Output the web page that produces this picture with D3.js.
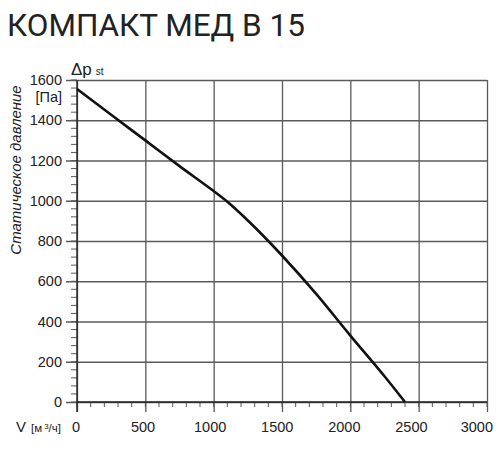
<!DOCTYPE html>
<html>
<head>
<meta charset="utf-8">
<script src="https://cdn.jsdelivr.net/npm/d3@7"></script>
<style>
  html, body { margin: 0; padding: 0; background: #fff; }
  svg { display: block; }
</style>
</head>
<body>
<div id="chart"></div>
<script>
// Fan curve.
const flow = [0, 250, 500, 750, 1000, 1100, 1250, 1500, 1750, 2000, 2250, 2400];
const pressure = [1555, 1427, 1300, 1172, 1048, 995, 902, 728, 537, 330, 128, 0];
const xTicks = [0, 500, 1000, 1500, 2000, 2500, 3000];
const yTicks = [0, 200, 400, 600, 800, 1000, 1200, 1400, 1600];
const titleText = 'КОМПАКТ МЕД В 15';
const yTitle = 'Статическое давление';

const W = 500, H = 450;
const M = { left: 77, right: 13, top: 80, bottom: 48 };
const innerW = W - M.left - M.right;
const innerH = H - M.top - M.bottom;
const gridInk = '#5a5a5a';
const ink = '#222';
const font = '"Liberation Sans", Arial, sans-serif';

const x = d3.scaleLinear().domain([0, 3000]).range([0, innerW]);
const y = d3.scaleLinear().domain([0, 1600]).range([innerH, 0]);

const svg = d3.select('#chart').append('svg')
  .attr('width', W).attr('height', H).attr('viewBox', `0 0 ${W} ${H}`);

svg.append('text').attr('x', 7).attr('y', 36)
  .attr('font-family', 'Roboto, sans-serif').attr('font-size', 31.5)
  .attr('fill', '#222').text(titleText);

const g = svg.append('g').attr('transform', `translate(${M.left},${M.top})`);

// minor ticks (outside the plot)
g.append('g').selectAll('line').data(d3.range(0, 3001, 100))
  .join('line')
  .attr('x1', (d) => x(d)).attr('x2', (d) => x(d))
  .attr('y1', innerH).attr('y2', innerH + 5)
  .attr('stroke', gridInk).attr('stroke-width', 1);
g.append('g').selectAll('line').data(d3.range(0, 1601, 40))
  .join('line')
  .attr('x1', -6).attr('x2', 0)
  .attr('y1', (d) => y(d)).attr('y2', (d) => y(d))
  .attr('stroke', gridInk).attr('stroke-width', 1);

// gridlines through the axes
g.append('g')
  .attr('transform', `translate(0,${innerH})`)
  .call(d3.axisBottom(x).tickValues(xTicks).tickSize(-innerH).tickSizeOuter(0).tickFormat(''))
  .call((s) => {
    s.select('.domain').remove();
    s.selectAll('line').attr('stroke', gridInk).attr('stroke-width', 1.3)
      .attr('y1', 10);
  });
g.append('g')
  .call(d3.axisLeft(y).tickValues(yTicks).tickSize(-innerW).tickSizeOuter(0).tickFormat(''))
  .call((s) => {
    s.select('.domain').remove();
    s.selectAll('line').attr('stroke', gridInk).attr('stroke-width', 1.3)
      .attr('x1', -11);
  });

// axis lines
g.append('line').attr('x1', 0).attr('x2', innerW).attr('y1', innerH).attr('y2', innerH)
  .attr('stroke', ink).attr('stroke-width', 1.4);
g.append('line').attr('x1', 0).attr('x2', 0).attr('y1', 0).attr('y2', innerH + 10)
  .attr('stroke', ink).attr('stroke-width', 1.4);

// tick labels — the source sets them a little left of the ticks, the last one flush
g.append('g').selectAll('text').data(xTicks).join('text')
  .attr('x', (d, i) => (i === xTicks.length - 1 ? x(d) + 6 : x(d) - 1 - d / 400))
  .attr('y', innerH + 30)
  .attr('text-anchor', (d, i) => (i === xTicks.length - 1 ? 'end' : 'middle'))
  .attr('font-family', font).attr('font-size', 14.5)
  .attr('fill', ink).text((d) => d);
g.append('g').selectAll('text').data(yTicks).join('text')
  .attr('x', -15).attr('y', (d) => y(d)).attr('dy', '0.36em')
  .attr('text-anchor', 'end').attr('font-family', font).attr('font-size', 14.5)
  .attr('fill', ink).text((d) => d);

// units and titles
g.append('text').attr('x', -15).attr('y', y(1600) + 22)
  .attr('text-anchor', 'end').attr('font-family', font).attr('font-size', 14.5)
  .attr('fill', ink).text('[Па]');
const dp = g.append('text').attr('x', -6).attr('y', -5)
  .attr('font-family', font).attr('fill', ink);
dp.append('tspan').attr('font-size', 17).text('Δp');
dp.append('tspan').attr('font-size', 10).attr('dx', 4).text('st');

const vl = svg.append('text').attr('x', 16).attr('y', M.top + innerH + 30)
  .attr('font-family', font).attr('fill', ink);
vl.append('tspan').attr('font-size', 15).text('V');
vl.append('tspan').attr('font-size', 11.5).attr('dx', 5).text('[м');
vl.append('tspan').attr('font-size', 8).attr('dx', 2).attr('dy', -3).text('3');
vl.append('tspan').attr('font-size', 11.5).attr('dy', 3).text('/ч]');

svg.append('text')
  .attr('transform', `translate(21,${M.top + 90}) rotate(-90)`)
  .attr('text-anchor', 'middle').attr('font-family', font).attr('font-style', 'italic')
  .attr('font-size', 15).attr('fill', ink).text(yTitle);

// curve
const line = d3.line().x((d, i) => x(flow[i])).y((d) => y(d)).curve(d3.curveMonotoneX);
g.append('path').datum(pressure)
  .attr('fill', 'none').attr('stroke', '#111').attr('stroke-width', 2.6)
  .attr('stroke-linejoin', 'round').attr('d', line);
</script>
</body>
</html>
